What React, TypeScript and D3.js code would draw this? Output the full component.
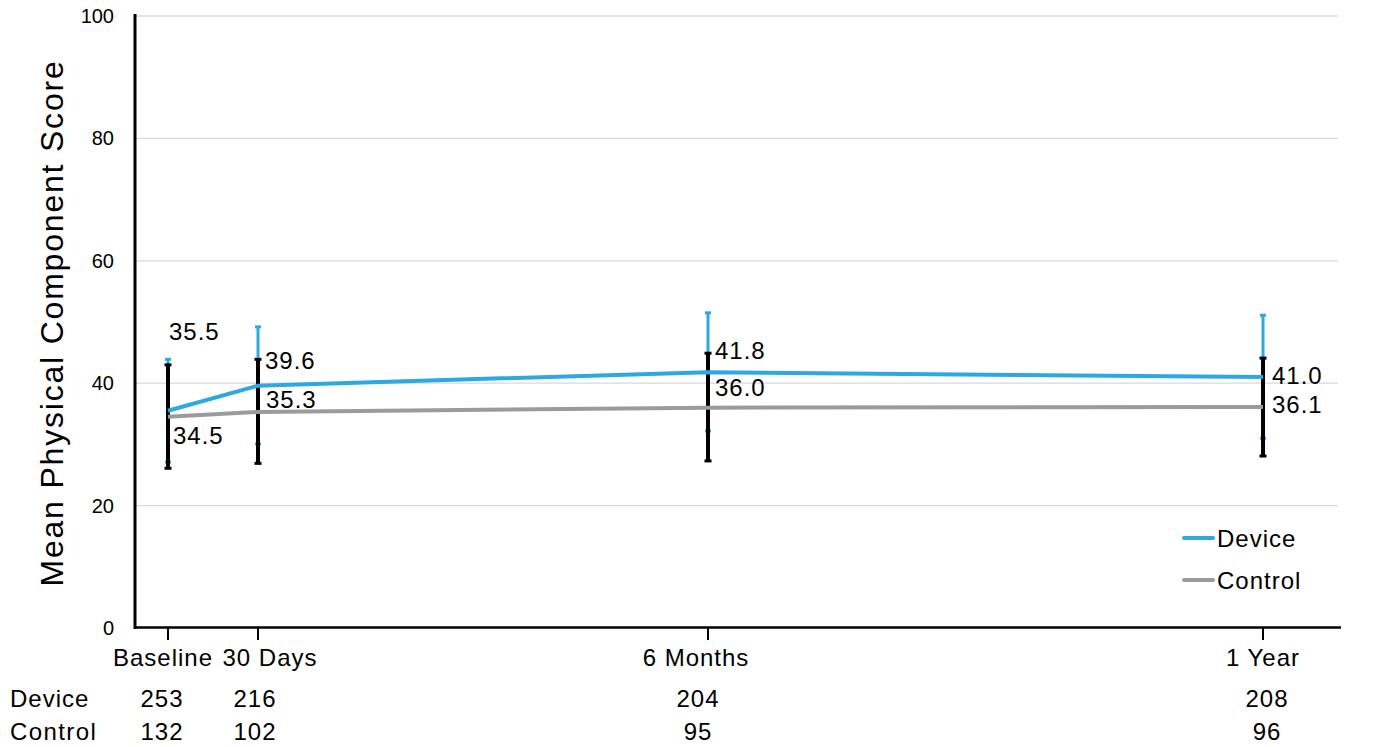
import React from "react";
import * as d3 from "d3";

// time points (days since baseline) and their labels
const days = [0, 30, 180, 365];
const timeLabels = ["Baseline", "30 Days", "6 Months", "1 Year"];

const deviceMean = [35.5, 39.6, 41.8, 41.0];
const deviceUpper = [43.9, 49.2, 51.5, 51.1];
const deviceLower = [27.1, 30.1, 32.2, 31.0];

const controlMean = [34.5, 35.3, 36.0, 36.1];
const controlUpper = [43.0, 43.9, 44.9, 44.1];
const controlLower = [26.1, 26.9, 27.3, 28.1];

const deviceN = [253, 216, 204, 208];
const controlN = [132, 102, 95, 96];

const yTicks = [0, 20, 40, 60, 80, 100];

// label nudges (layout only)
const deviceLabelShift = [[1, -79], [7, -25], [7, -22], [9, -2]];
const controlLabelShift = [[5, 19], [8, -12], [7, -20], [9, -3]];
const xLabelShift = [-5, 12, -12, 0];
const nShift = [-6, -3, -10, 4];

const BLUE = "#2EA8E0";
const GRAY = "#9B9B9D";
const FONT = "'Liberation Sans', Arial, sans-serif";
const FS = 24;
const LS = 1;

export default function App() {
  const width = 1378;
  const height = 747;

  const x = d3.scaleLinear().domain([-11, 391]).range([135, 1341]);
  const y = d3.scaleLinear().domain([0, 100]).range([628, 16]);

  const line = d3
    .line<number>()
    .x((_, i) => x(days[i]))
    .y((d) => y(d));

  const errBar = (
    upper: number[],
    lower: number[],
    color: string,
    w: number,
    capW: number,
    key: string
  ) =>
    days.map((d, i) => (
      <g key={key + i}>
        <line x1={x(d)} x2={x(d)} y1={y(upper[i])} y2={y(lower[i])} stroke={color} strokeWidth={w} />
        <line x1={x(d) - capW / 2} x2={x(d) + capW / 2} y1={y(upper[i])} y2={y(upper[i])} stroke={color} strokeWidth={3} />
        <line x1={x(d) - capW / 2} x2={x(d) + capW / 2} y1={y(lower[i])} y2={y(lower[i])} stroke={color} strokeWidth={3} />
      </g>
    ));

  return (
    <svg
      width={width}
      height={height}
      style={{ position: "absolute", left: 0, top: 0, background: "#fff" }}
      fontFamily={FONT}
    >
      {/* grid */}
      {yTicks.filter((t) => t > 0).map((t) => (
        <line key={"g" + t} x1={135} x2={1338} y1={y(t)} y2={y(t)} stroke="#d9d9d9" strokeWidth={1.3} />
      ))}
      {yTicks.map((t) => (
        <text key={"yt" + t} x={114} y={y(t)} textAnchor="end" dominantBaseline="central" fontSize={20}>
          {t}
        </text>
      ))}
      <text
        transform={`translate(52, 323) rotate(-90)`}
        textAnchor="middle"
        dominantBaseline="central"
        fontSize={32}
        letterSpacing={1.8}
      >
        Mean Physical Component Score
      </text>

      {/* error bars: device below, control on top */}
      {errBar(deviceUpper, deviceLower, BLUE, 3, 6, "de")}
      {errBar(controlUpper, controlLower, "#000", 4, 7, "ce")}

      {/* lines */}
      <path d={line(controlMean) || ""} fill="none" stroke={GRAY} strokeWidth={4} />
      <path d={line(deviceMean) || ""} fill="none" stroke={BLUE} strokeWidth={4} />

      {/* data labels */}
      {deviceMean.map((v, i) => (
        <text key={"dl" + i} x={x(days[i]) + deviceLabelShift[i][0]} y={y(v) + deviceLabelShift[i][1]} dominantBaseline="central" fontSize={FS} letterSpacing={LS}>
          {v.toFixed(1)}
        </text>
      ))}
      {controlMean.map((v, i) => (
        <text key={"cl" + i} x={x(days[i]) + controlLabelShift[i][0]} y={y(v) + controlLabelShift[i][1]} dominantBaseline="central" fontSize={FS} letterSpacing={LS}>
          {v.toFixed(1)}
        </text>
      ))}

      {/* axes */}
      <line x1={135} x2={135} y1={14} y2={629} stroke="#000" strokeWidth={3} />
      <line x1={134} x2={1341} y1={627.5} y2={627.5} stroke="#000" strokeWidth={2.5} />
      {days.map((d, i) => (
        <line key={"tk" + i} x1={x(d)} x2={x(d)} y1={628} y2={640} stroke="#000" strokeWidth={2} />
      ))}
      {days.map((d, i) => (
        <text key={"xl" + i} x={x(d) + xLabelShift[i]} y={657} textAnchor="middle" dominantBaseline="central" fontSize={FS} letterSpacing={LS}>
          {timeLabels[i]}
        </text>
      ))}

      {/* numbers at risk */}
      <text x={10} y={698} dominantBaseline="central" fontSize={FS} letterSpacing={LS}>Device</text>
      <text x={10} y={731} dominantBaseline="central" fontSize={FS} letterSpacing={1.4}>Control</text>
      {days.map((d, i) => (
        <g key={"n" + i}>
          <text x={x(d) + nShift[i]} y={698} textAnchor="middle" dominantBaseline="central" fontSize={FS} letterSpacing={LS}>{deviceN[i]}</text>
          <text x={x(d) + nShift[i]} y={731} textAnchor="middle" dominantBaseline="central" fontSize={FS} letterSpacing={LS}>{controlN[i]}</text>
        </g>
      ))}

      {/* legend */}
      <line x1={1184} x2={1213} y1={538} y2={538} stroke={BLUE} strokeWidth={4} strokeLinecap="round" />
      <text x={1217} y={538} dominantBaseline="central" fontSize={FS} letterSpacing={LS}>Device</text>
      <line x1={1184} x2={1213} y1={580} y2={580} stroke={GRAY} strokeWidth={4} strokeLinecap="round" />
      <text x={1217} y={580} dominantBaseline="central" fontSize={FS} letterSpacing={LS}>Control</text>
    </svg>
  );
}
